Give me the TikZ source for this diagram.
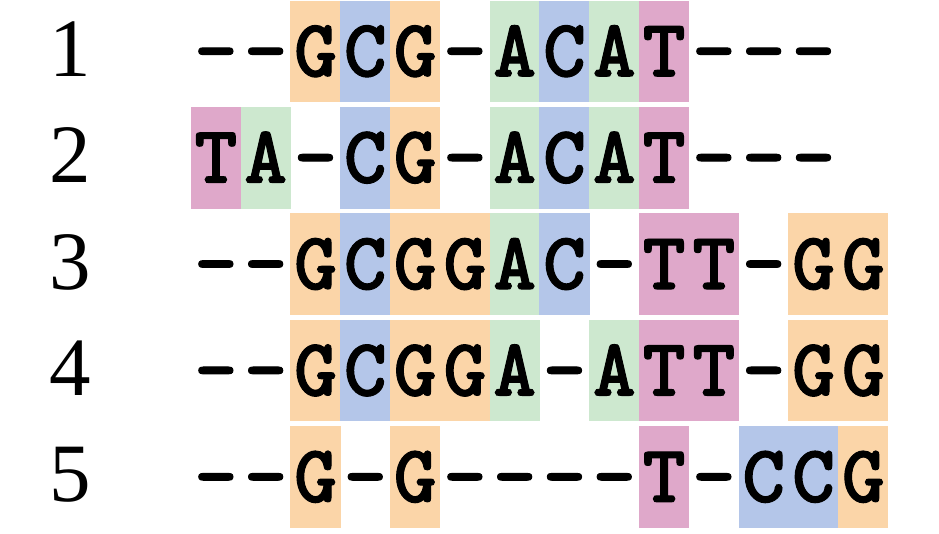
\documentclass[tikz,border=0pt]{standalone}
\usepackage{fontspec}
\setmainfont{Liberation Serif}
\newfontfamily\seqfont{lmmonolt10-bold}[Extension=.otf, FakeBold=1.2]
\definecolor{BaseG}{HTML}{FBD5A8}
\definecolor{BaseC}{HTML}{B4C6E9}
\definecolor{BaseA}{HTML}{CDE8CF}
\definecolor{BaseT}{HTML}{DFA8CA}

\begin{document}
\begin{tikzpicture}[
    x=1pt, y=-1pt,
    cell/.style={
      minimum width=50.3pt,
      minimum height=101.6pt,
      inner sep=0pt,
      text height=50pt,
      text depth=0pt,
      font=\fontsize{82}{86}\seqfont
    },
    base G/.style={cell, fill=BaseG},
    base C/.style={cell, fill=BaseC},
    base A/.style={cell, fill=BaseA},
    base T/.style={cell, fill=BaseT},
    base -/.style={cell},
    rowlabel/.style={anchor=base, inner sep=0pt, font=\fontsize{83}{86}\selectfont}
  ]
    \useasboundingbox (0,0) rectangle (939,533);

    \foreach \r/\seq in {
        1/{-,-,G,C,G,-,A,C,A,T,-,-,-},
        2/{T,A,-,C,G,-,A,C,A,T,-,-,-},
        3/{-,-,G,C,G,G,A,C,-,T,T,-,G,G},
        4/{-,-,G,C,G,G,A,-,A,T,T,-,G,G},
        5/{-,-,G,-,G,-,-,-,-,T,-,C,C,G}} {
      \node[rowlabel] (lab\r) at (70, {76.3+(\r-1)*106.4}) {\r};
      \foreach \ch [count=\i] in \seq
        \node[base \ch] (s\r-\i) at ({191+(\i-0.5)*49.8}, {51.3+(\r-1)*106.4}) {\ch};
    }
  \end{tikzpicture}
\end{document}
